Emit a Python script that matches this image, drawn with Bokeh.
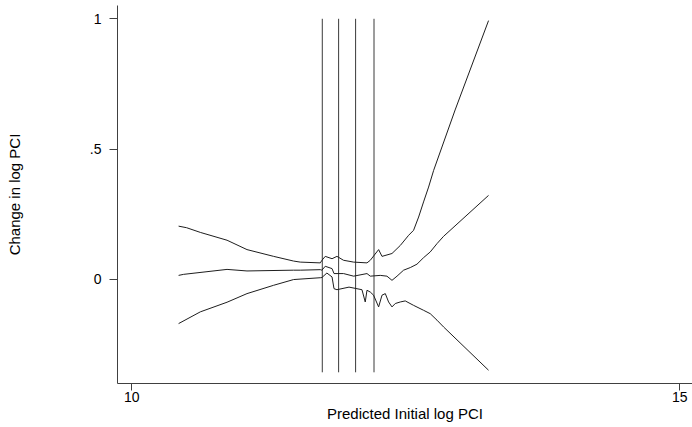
from bokeh.plotting import figure
from bokeh.models import Range1d, FixedTicker
from bokeh.embed import file_html
from bokeh.resources import INLINE

# ---- data ----
upper_x = [10.427, 10.50, 10.625, 10.869, 11.051, 11.294, 11.476, 11.537, 11.72, 11.735, 11.765,
           11.827, 11.872, 11.932, 12.024, 12.146, 12.176, 12.252, 12.283, 12.374, 12.45,
           12.526, 12.571, 12.617, 12.662, 12.708, 12.754, 12.95, 13.255]
upper_y = [0.204, 0.198, 0.180, 0.150, 0.114, 0.088, 0.070, 0.066, 0.063, 0.073, 0.088,
           0.079, 0.088, 0.073, 0.066, 0.063, 0.073, 0.114, 0.088, 0.099, 0.130,
           0.169, 0.188, 0.239, 0.297, 0.354, 0.418, 0.650, 0.993]

mid_x = [10.427, 10.473, 10.869, 11.051, 11.476, 11.537, 11.72, 11.735, 11.765, 11.827, 11.845,
         11.932, 12.024, 12.146, 12.176, 12.267, 12.328, 12.374, 12.42, 12.48, 12.541, 12.602,
         12.662, 12.723, 12.785, 12.845, 13.255]
mid_y = [0.015, 0.019, 0.038, 0.032, 0.035, 0.035, 0.037, 0.035, 0.050, 0.041, 0.022,
         0.022, 0.012, 0.022, 0.012, 0.015, 0.012, -0.004, 0.012, 0.035, 0.045, 0.058,
         0.083, 0.105, 0.137, 0.165, 0.322]

low_x = [10.427, 10.625, 10.869, 11.051, 11.294, 11.476, 11.72, 11.735, 11.780, 11.827, 11.845,
         11.872, 11.982, 12.10, 12.13, 12.146, 12.176, 12.206, 12.252, 12.283, 12.313, 12.343,
         12.374, 12.404, 12.45, 12.495, 12.571, 12.662, 12.723, 12.785, 12.845, 13.255]
low_y = [-0.170, -0.125, -0.088, -0.055, -0.023, -0.001, 0.006, 0.007, 0.024, 0.009, -0.036,
         -0.040, -0.030, -0.040, -0.087, -0.042, -0.049, -0.061, -0.106, -0.061, -0.055, -0.087,
         -0.106, -0.093, -0.087, -0.083, -0.100, -0.119, -0.132, -0.157, -0.183, -0.349]

vline_x = [11.738, 11.887, 12.042, 12.210]
vline_top = 1.0
vline_bottom = -0.357

x_ticks = [10, 15]
y_ticks = [0, 0.5, 1]
y_tick_labels = {0: "0", 0.5: ".5", 1: "1"}

x_label = "Predicted Initial log PCI"
y_label = "Change in log PCI"

FONT = "Liberation Sans"

p = figure(width=692, height=427, output_backend="svg", toolbar_location=None,
           x_range=Range1d(9.8695, 15.116), y_range=Range1d(-0.400, 1.051),
           min_border_left=117, min_border_right=0, min_border_top=5, min_border_bottom=44)

p.outline_line_color = None
p.xgrid.visible = False
p.ygrid.visible = False
p.background_fill_color = "white"
p.border_fill_color = "white"

for xv in vline_x:
    p.segment(x0=[xv], y0=[vline_bottom], x1=[xv], y1=[vline_top], line_color="#3a3a3a", line_width=1)

for xs, ys in [(upper_x, upper_y), (mid_x, mid_y), (low_x, low_y)]:
    p.line(xs, ys, line_color="#1e1e1e", line_width=1)

p.xaxis.ticker = FixedTicker(ticks=x_ticks)
p.yaxis.ticker = FixedTicker(ticks=y_ticks)
p.yaxis.major_label_overrides = y_tick_labels
p.yaxis.major_label_orientation = "horizontal"

for ax in (p.xaxis[0], p.yaxis[0]):
    ax.axis_line_color = "#404040"
    ax.major_tick_line_color = "#404040"
    ax.minor_tick_line_color = None
    ax.major_tick_in = 0
    ax.major_label_text_font = FONT
    ax.major_label_text_font_size = "14px"
    ax.major_label_text_color = "black"
    ax.axis_label_text_font = FONT
    ax.axis_label_text_font_size = "15px"
    ax.axis_label_text_font_style = "normal"
    ax.axis_label_text_color = "black"

p.xaxis.axis_label = x_label
p.yaxis.axis_label = y_label
p.xaxis.major_tick_out = 7
p.yaxis.major_tick_out = 8
p.xaxis.major_label_standoff = 1
p.yaxis.major_label_standoff = 8
p.xaxis.axis_label_standoff = 0
p.yaxis.axis_label_standoff = 64

open("out.html", "w").write(file_html(p, INLINE))
